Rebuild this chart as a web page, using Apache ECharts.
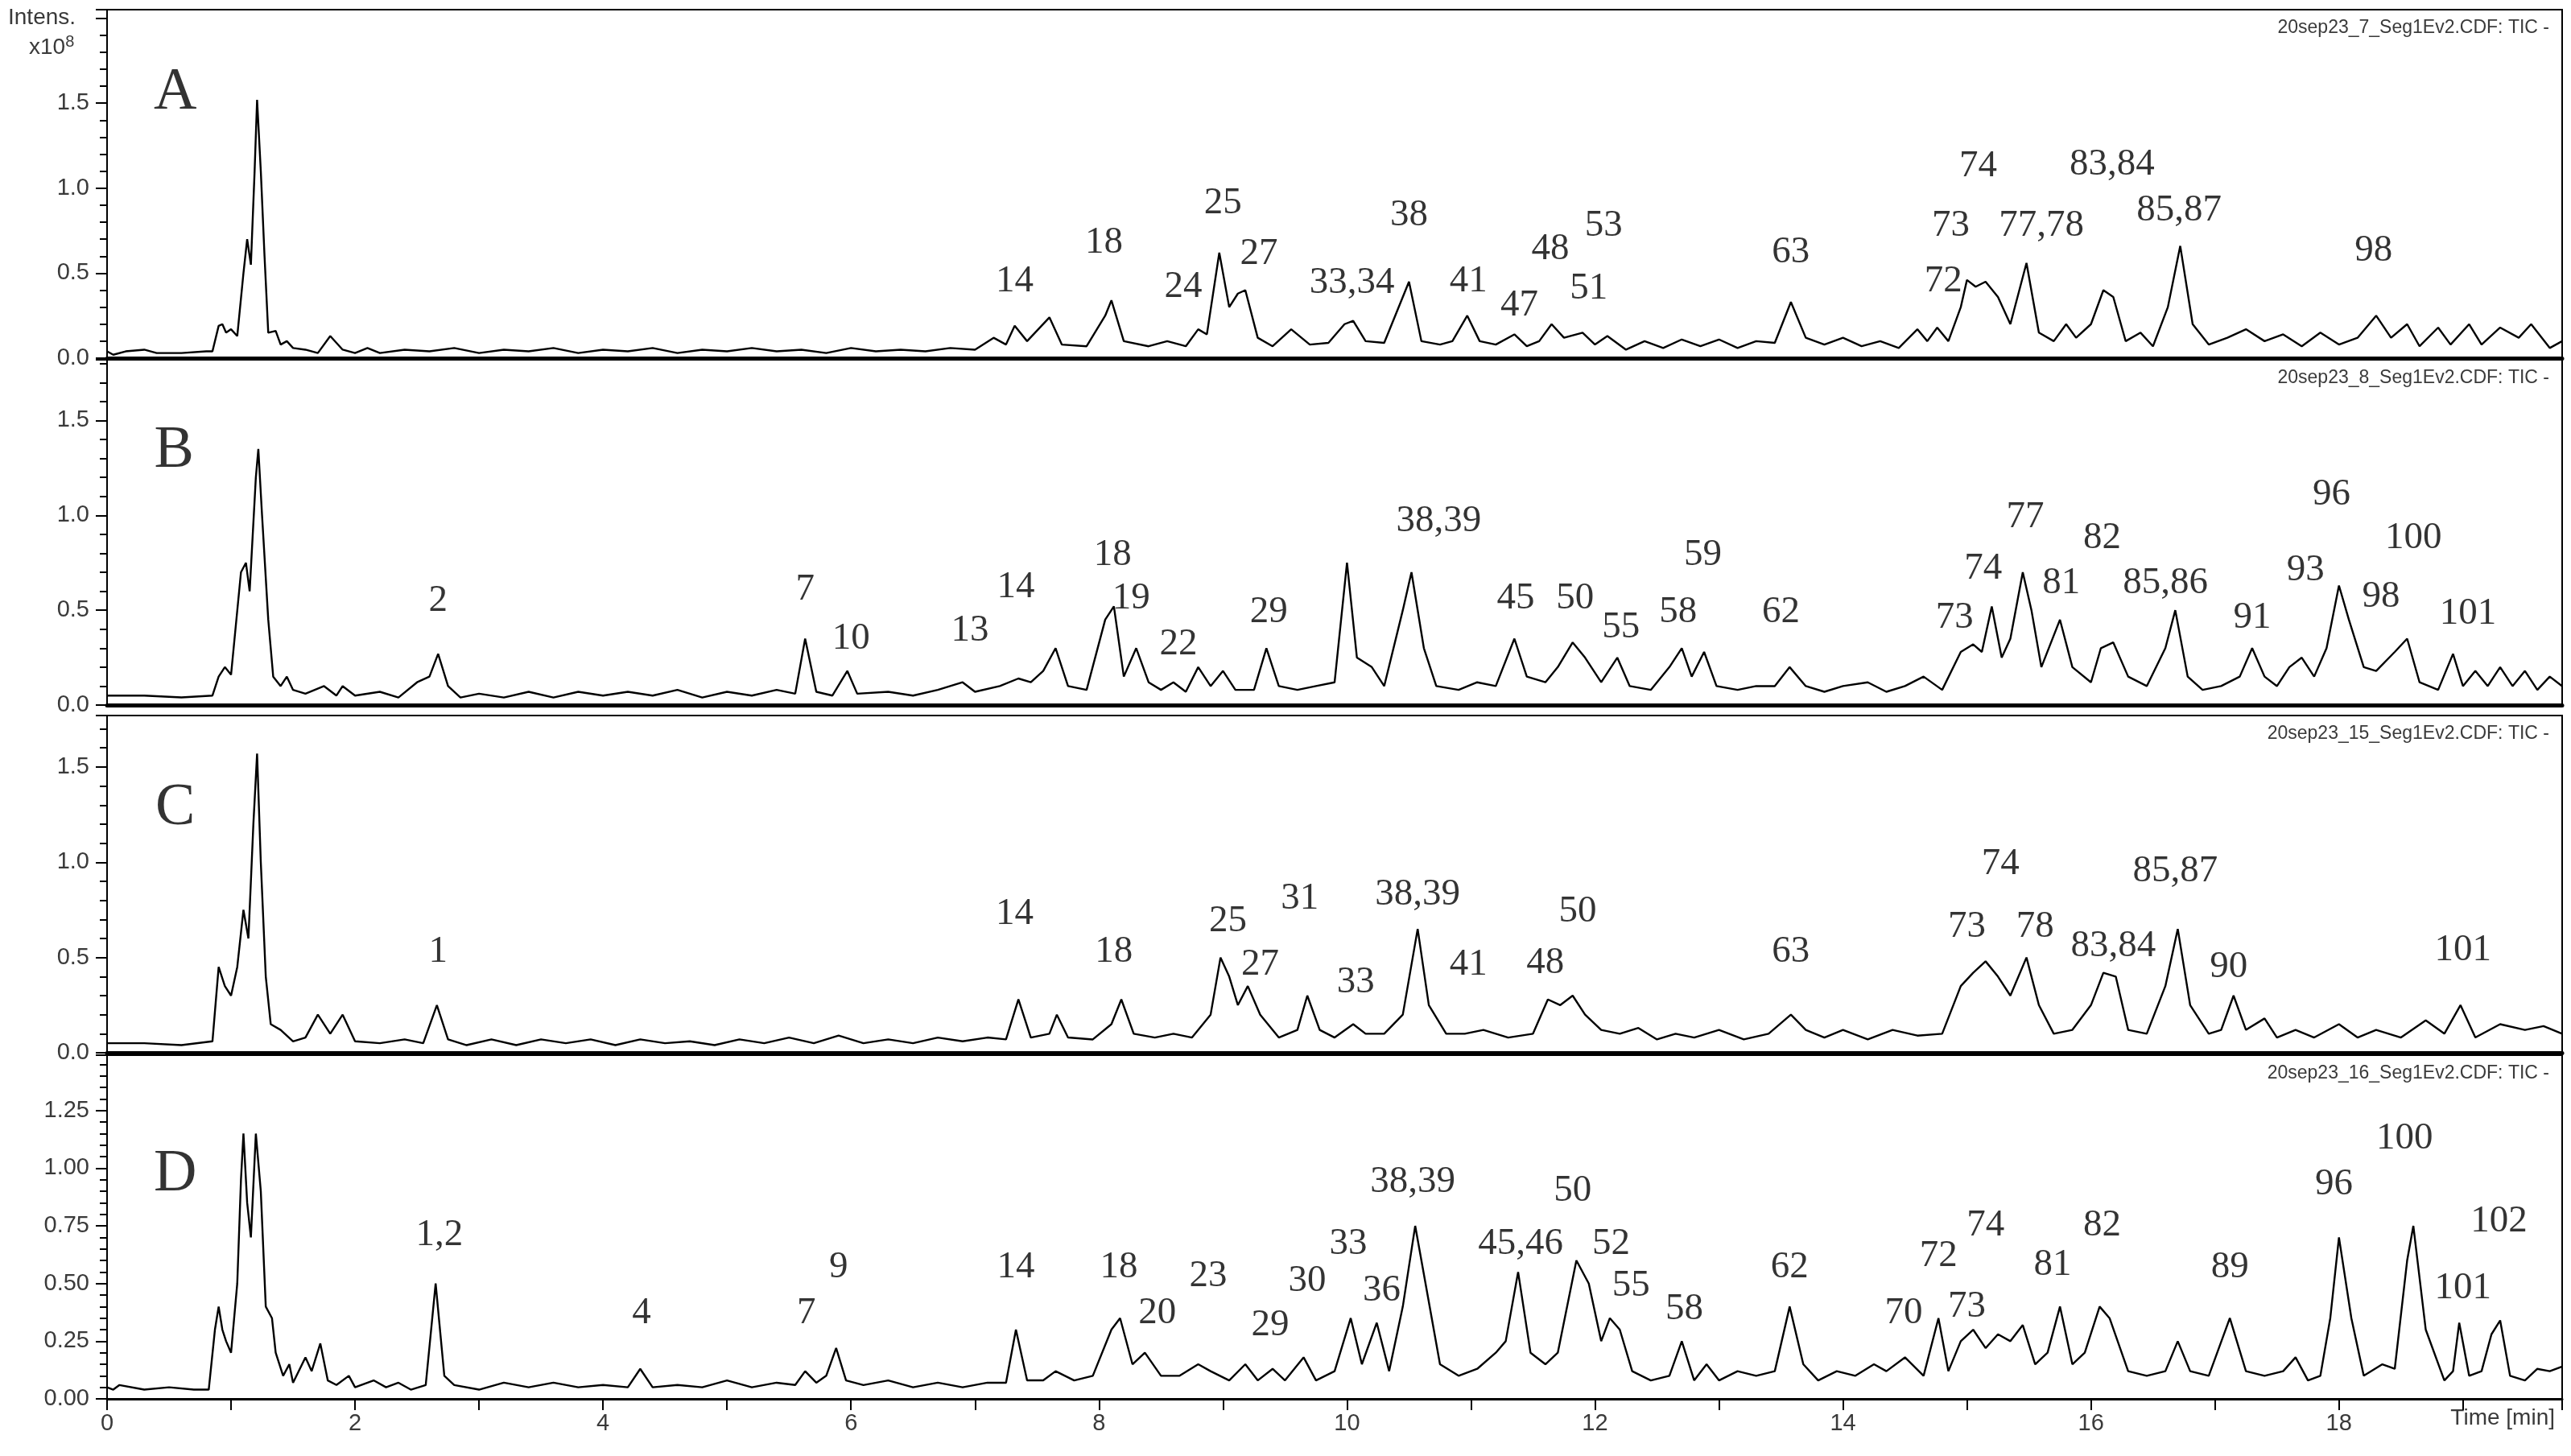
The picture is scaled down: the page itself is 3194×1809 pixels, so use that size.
<!DOCTYPE html>
<html><head><meta charset="utf-8">
<script src="https://cdn.jsdelivr.net/npm/echarts@6/dist/echarts.min.js"></script>
<style>html,body{margin:0;padding:0;background:#fff}#c{width:3194px;height:1809px}</style>
</head><body><div id="c"></div>
<script>
const headers = ['20sep23_7_Seg1Ev2.CDF: TIC -','20sep23_8_Seg1Ev2.CDF: TIC -','20sep23_15_Seg1Ev2.CDF: TIC -','20sep23_16_Seg1Ev2.CDF: TIC -'];
const panelLetters = [['A',0.55,1.56],['B',0.54,1.34],['C',0.55,1.28],['D',0.55,0.97]];
const xTicks = [0,2,4,6,8,10,12,14,16,18];

const traceA = [[0,0.04],[0.05,0.02],[0.15,0.04],[0.3,0.05],[0.4,0.03],[0.6,0.03],[0.8,0.04],[0.85,0.04],[0.9,0.19],[0.93,0.2],[0.96,0.15],[1.0,0.17],[1.05,0.13],[1.1,0.5],[1.13,0.7],[1.16,0.55],[1.19,1.1],[1.21,1.52],[1.24,1.1],[1.27,0.6],[1.3,0.15],[1.36,0.16],[1.4,0.08],[1.45,0.1],[1.5,0.06],[1.6,0.05],[1.7,0.03],[1.8,0.13],[1.9,0.05],[2.0,0.03],[2.1,0.06],[2.2,0.03],[2.4,0.05],[2.6,0.04],[2.8,0.06],[3.0,0.03],[3.2,0.05],[3.4,0.04],[3.6,0.06],[3.8,0.03],[4.0,0.05],[4.2,0.04],[4.4,0.06],[4.6,0.03],[4.8,0.05],[5.0,0.04],[5.2,0.06],[5.4,0.04],[5.6,0.05],[5.8,0.03],[6.0,0.06],[6.2,0.04],[6.4,0.05],[6.6,0.04],[6.8,0.06],[7.0,0.05],[7.15,0.12],[7.25,0.08],[7.32,0.19],[7.42,0.1],[7.6,0.24],[7.7,0.08],[7.9,0.07],[8.05,0.25],[8.1,0.34],[8.2,0.1],[8.4,0.07],[8.55,0.1],[8.7,0.07],[8.8,0.17],[8.87,0.14],[8.97,0.62],[9.05,0.3],[9.12,0.38],[9.18,0.4],[9.28,0.12],[9.4,0.07],[9.55,0.17],[9.7,0.08],[9.85,0.09],[9.98,0.2],[10.05,0.22],[10.15,0.1],[10.3,0.09],[10.5,0.45],[10.6,0.1],[10.75,0.08],[10.85,0.1],[10.97,0.25],[11.07,0.1],[11.2,0.08],[11.35,0.14],[11.45,0.07],[11.55,0.1],[11.65,0.2],[11.75,0.12],[11.9,0.15],[12.0,0.08],[12.1,0.13],[12.25,0.05],[12.4,0.1],[12.55,0.06],[12.7,0.11],[12.85,0.07],[13.0,0.11],[13.15,0.06],[13.3,0.1],[13.45,0.09],[13.58,0.33],[13.7,0.12],[13.85,0.08],[14.0,0.12],[14.15,0.07],[14.3,0.1],[14.45,0.06],[14.6,0.17],[14.68,0.1],[14.76,0.18],[14.85,0.1],[14.95,0.3],[15.0,0.46],[15.07,0.42],[15.15,0.45],[15.25,0.36],[15.35,0.2],[15.48,0.56],[15.58,0.15],[15.7,0.1],[15.8,0.2],[15.88,0.12],[16.0,0.2],[16.1,0.4],[16.18,0.36],[16.28,0.1],[16.4,0.15],[16.5,0.07],[16.62,0.3],[16.72,0.66],[16.82,0.2],[16.95,0.08],[17.1,0.12],[17.25,0.17],[17.4,0.1],[17.55,0.14],[17.7,0.07],[17.85,0.15],[18.0,0.08],[18.15,0.12],[18.3,0.25],[18.42,0.12],[18.55,0.2],[18.65,0.07],[18.8,0.18],[18.9,0.08],[19.05,0.2],[19.15,0.08],[19.3,0.18],[19.45,0.12],[19.55,0.2],[19.7,0.06],[19.8,0.1]];
const traceB = [[0,0.05],[0.3,0.05],[0.6,0.04],[0.85,0.05],[0.9,0.15],[0.95,0.2],[1.0,0.16],[1.08,0.7],[1.12,0.75],[1.15,0.6],[1.2,1.2],[1.22,1.35],[1.25,1.0],[1.3,0.45],[1.34,0.15],[1.4,0.1],[1.45,0.15],[1.5,0.08],[1.6,0.06],[1.75,0.1],[1.85,0.05],[1.9,0.1],[2.0,0.05],[2.2,0.07],[2.35,0.04],[2.5,0.12],[2.6,0.15],[2.67,0.27],[2.75,0.1],[2.85,0.04],[3.0,0.06],[3.2,0.04],[3.4,0.07],[3.6,0.04],[3.8,0.07],[4.0,0.05],[4.2,0.07],[4.4,0.05],[4.6,0.08],[4.8,0.04],[5.0,0.07],[5.2,0.05],[5.4,0.08],[5.55,0.06],[5.63,0.35],[5.72,0.07],[5.85,0.05],[5.97,0.18],[6.05,0.06],[6.3,0.07],[6.5,0.05],[6.7,0.08],[6.9,0.12],[7.0,0.07],[7.2,0.1],[7.35,0.14],[7.45,0.12],[7.55,0.18],[7.65,0.3],[7.75,0.1],[7.9,0.08],[8.05,0.45],[8.12,0.52],[8.2,0.15],[8.3,0.3],[8.4,0.12],[8.5,0.08],[8.6,0.12],[8.7,0.07],[8.8,0.2],[8.9,0.1],[9.0,0.18],[9.1,0.08],[9.25,0.08],[9.35,0.3],[9.45,0.1],[9.6,0.08],[9.75,0.1],[9.9,0.12],[10.0,0.75],[10.08,0.25],[10.2,0.2],[10.3,0.1],[10.45,0.5],[10.52,0.7],[10.62,0.3],[10.72,0.1],[10.9,0.08],[11.05,0.12],[11.2,0.1],[11.35,0.35],[11.45,0.15],[11.6,0.12],[11.7,0.2],[11.82,0.33],[11.92,0.25],[12.05,0.12],[12.18,0.25],[12.28,0.1],[12.45,0.08],[12.6,0.2],[12.7,0.3],[12.78,0.15],[12.88,0.28],[12.98,0.1],[13.15,0.08],[13.3,0.1],[13.45,0.1],[13.57,0.2],[13.7,0.1],[13.85,0.07],[14.0,0.1],[14.2,0.12],[14.35,0.07],[14.5,0.1],[14.65,0.15],[14.8,0.08],[14.95,0.28],[15.05,0.32],[15.12,0.28],[15.2,0.52],[15.28,0.25],[15.35,0.35],[15.45,0.7],[15.52,0.5],[15.6,0.2],[15.75,0.45],[15.85,0.2],[16.0,0.12],[16.08,0.3],[16.18,0.33],[16.3,0.15],[16.45,0.1],[16.6,0.3],[16.68,0.5],[16.78,0.15],[16.9,0.08],[17.05,0.1],[17.2,0.15],[17.3,0.3],[17.4,0.15],[17.5,0.1],[17.6,0.2],[17.7,0.25],[17.8,0.15],[17.9,0.3],[18.0,0.63],[18.08,0.45],[18.2,0.2],[18.3,0.18],[18.45,0.28],[18.55,0.35],[18.65,0.12],[18.8,0.08],[18.92,0.27],[19.0,0.1],[19.1,0.18],[19.2,0.1],[19.3,0.2],[19.4,0.1],[19.5,0.18],[19.6,0.08],[19.7,0.15],[19.8,0.1]];
const traceC = [[0,0.05],[0.3,0.05],[0.6,0.04],[0.85,0.06],[0.9,0.45],[0.95,0.35],[1.0,0.3],[1.05,0.45],[1.1,0.75],[1.14,0.6],[1.18,1.2],[1.21,1.57],[1.24,1.0],[1.28,0.4],[1.32,0.15],[1.4,0.12],[1.5,0.06],[1.6,0.08],[1.7,0.2],[1.8,0.1],[1.9,0.2],[2.0,0.06],[2.2,0.05],[2.4,0.07],[2.55,0.05],[2.66,0.25],[2.75,0.07],[2.9,0.04],[3.1,0.07],[3.3,0.04],[3.5,0.07],[3.7,0.05],[3.9,0.07],[4.1,0.04],[4.3,0.07],[4.5,0.05],[4.7,0.06],[4.9,0.04],[5.1,0.07],[5.3,0.05],[5.5,0.08],[5.7,0.05],[5.9,0.09],[6.1,0.05],[6.3,0.07],[6.5,0.05],[6.7,0.08],[6.9,0.06],[7.1,0.08],[7.25,0.07],[7.35,0.28],[7.45,0.08],[7.6,0.1],[7.66,0.2],[7.75,0.08],[7.95,0.07],[8.1,0.15],[8.18,0.28],[8.28,0.1],[8.45,0.08],[8.6,0.1],[8.75,0.08],[8.9,0.2],[8.98,0.5],[9.05,0.4],[9.12,0.25],[9.2,0.35],[9.3,0.2],[9.45,0.08],[9.6,0.12],[9.68,0.3],[9.78,0.12],[9.9,0.08],[10.05,0.15],[10.15,0.1],[10.3,0.1],[10.45,0.2],[10.57,0.65],[10.66,0.25],[10.8,0.1],[10.95,0.1],[11.1,0.12],[11.3,0.08],[11.5,0.1],[11.62,0.28],[11.72,0.25],[11.82,0.3],[11.92,0.2],[12.05,0.12],[12.2,0.1],[12.35,0.13],[12.5,0.07],[12.65,0.1],[12.8,0.08],[13.0,0.12],[13.2,0.07],[13.4,0.1],[13.58,0.2],[13.7,0.12],[13.85,0.08],[14.0,0.12],[14.2,0.07],[14.4,0.12],[14.6,0.09],[14.8,0.1],[14.95,0.35],[15.05,0.42],[15.15,0.48],[15.25,0.4],[15.35,0.3],[15.48,0.5],[15.58,0.25],[15.7,0.1],[15.85,0.12],[16.0,0.25],[16.1,0.42],[16.2,0.4],[16.3,0.12],[16.45,0.1],[16.6,0.35],[16.7,0.65],[16.8,0.25],[16.95,0.1],[17.05,0.12],[17.15,0.3],[17.25,0.12],[17.4,0.18],[17.5,0.08],[17.65,0.12],[17.8,0.08],[18.0,0.15],[18.15,0.08],[18.3,0.12],[18.5,0.08],[18.7,0.17],[18.85,0.1],[18.98,0.25],[19.1,0.08],[19.3,0.15],[19.5,0.12],[19.65,0.14],[19.8,0.1]];
const traceD = [[0,0.05],[0.05,0.04],[0.1,0.06],[0.3,0.04],[0.5,0.05],[0.7,0.04],[0.82,0.04],[0.87,0.3],[0.9,0.4],[0.93,0.3],[0.96,0.25],[1.0,0.2],[1.05,0.5],[1.08,0.95],[1.1,1.15],[1.13,0.85],[1.16,0.7],[1.2,1.15],[1.24,0.9],[1.28,0.4],[1.33,0.35],[1.36,0.2],[1.42,0.1],[1.47,0.15],[1.5,0.07],[1.6,0.18],[1.65,0.12],[1.72,0.24],[1.78,0.08],[1.85,0.06],[1.95,0.1],[2.0,0.05],[2.15,0.08],[2.25,0.05],[2.35,0.07],[2.45,0.04],[2.57,0.06],[2.65,0.5],[2.72,0.1],[2.8,0.06],[3.0,0.04],[3.2,0.07],[3.4,0.05],[3.6,0.07],[3.8,0.05],[4.0,0.06],[4.2,0.05],[4.3,0.13],[4.4,0.05],[4.6,0.06],[4.8,0.05],[5.0,0.08],[5.2,0.05],[5.4,0.07],[5.55,0.06],[5.63,0.12],[5.72,0.07],[5.8,0.1],[5.88,0.22],[5.96,0.08],[6.1,0.06],[6.3,0.08],[6.5,0.05],[6.7,0.07],[6.9,0.05],[7.1,0.07],[7.25,0.07],[7.33,0.3],[7.42,0.08],[7.55,0.08],[7.65,0.12],[7.8,0.08],[7.95,0.1],[8.1,0.3],[8.17,0.35],[8.27,0.15],[8.37,0.2],[8.5,0.1],[8.65,0.1],[8.8,0.15],[8.9,0.12],[9.05,0.08],[9.18,0.15],[9.28,0.08],[9.4,0.13],[9.5,0.08],[9.65,0.18],[9.75,0.08],[9.9,0.12],[10.03,0.35],[10.12,0.15],[10.24,0.33],[10.34,0.12],[10.45,0.4],[10.55,0.75],[10.65,0.45],[10.75,0.15],[10.9,0.1],[11.05,0.13],[11.2,0.2],[11.28,0.25],[11.38,0.55],[11.48,0.2],[11.6,0.15],[11.7,0.2],[11.85,0.6],[11.95,0.5],[12.05,0.25],[12.12,0.35],[12.2,0.3],[12.3,0.12],[12.45,0.08],[12.6,0.1],[12.7,0.25],[12.8,0.08],[12.9,0.15],[13.0,0.08],[13.15,0.12],[13.3,0.1],[13.45,0.12],[13.57,0.4],[13.68,0.15],[13.8,0.08],[13.95,0.12],[14.1,0.1],[14.25,0.15],[14.35,0.12],[14.5,0.18],[14.65,0.1],[14.77,0.35],[14.85,0.12],[14.95,0.25],[15.05,0.3],[15.15,0.22],[15.25,0.28],[15.35,0.25],[15.45,0.32],[15.55,0.15],[15.65,0.2],[15.75,0.4],[15.85,0.15],[15.95,0.2],[16.07,0.4],[16.15,0.35],[16.3,0.12],[16.45,0.1],[16.6,0.12],[16.7,0.25],[16.8,0.12],[16.95,0.1],[17.12,0.35],[17.25,0.12],[17.4,0.1],[17.55,0.12],[17.65,0.18],[17.75,0.08],[17.85,0.1],[17.93,0.35],[18.0,0.7],[18.1,0.35],[18.2,0.1],[18.35,0.15],[18.45,0.13],[18.55,0.6],[18.6,0.75],[18.7,0.3],[18.85,0.08],[18.92,0.12],[18.97,0.33],[19.05,0.1],[19.15,0.12],[19.23,0.28],[19.3,0.34],[19.38,0.1],[19.5,0.08],[19.6,0.13],[19.7,0.12],[19.8,0.14]];

const labelsA = [['14',7.32,0.45],['18',8.04,0.68],['24',8.68,0.42],['25',9.0,0.91],['27',9.29,0.61],['33,34',10.04,0.44],['38',10.5,0.84],['41',10.98,0.45],['47',11.39,0.31],['48',11.64,0.64],['51',11.95,0.41],['53',12.07,0.78],['63',13.58,0.62],['72',14.81,0.45],['73',14.87,0.78],['74',15.09,1.13],['77,78',15.6,0.78],['83,84',16.17,1.14],['85,87',16.71,0.87],['98',18.28,0.63]];
const labelsB = [['2',2.67,0.55],['7',5.63,0.61],['10',6.0,0.35],['13',6.96,0.39],['14',7.33,0.62],['18',8.11,0.79],['19',8.26,0.56],['22',8.64,0.32],['29',9.37,0.49],['38,39',10.74,0.97],['45',11.36,0.56],['50',11.84,0.56],['55',12.21,0.41],['58',12.67,0.49],['59',12.87,0.79],['62',13.5,0.49],['73',14.9,0.46],['74',15.13,0.72],['77',15.47,0.99],['81',15.76,0.64],['82',16.09,0.88],['85,86',16.6,0.64],['91',17.3,0.46],['93',17.73,0.71],['96',17.94,1.11],['98',18.34,0.57],['100',18.6,0.88],['101',19.04,0.48]];
const labelsC = [['1',2.67,0.53],['14',7.32,0.73],['18',8.12,0.53],['25',9.04,0.69],['27',9.3,0.46],['31',9.62,0.81],['33',10.07,0.37],['38,39',10.57,0.83],['41',10.98,0.46],['48',11.6,0.47],['50',11.86,0.74],['63',13.58,0.53],['73',15.0,0.66],['74',15.27,0.99],['78',15.55,0.66],['83,84',16.18,0.56],['85,87',16.68,0.95],['90',17.11,0.45],['101',19.0,0.54]];
const labelsD = [['1,2',2.68,0.71],['4',4.31,0.37],['7',5.64,0.37],['9',5.9,0.57],['14',7.33,0.57],['18',8.16,0.57],['20',8.47,0.37],['23',8.88,0.53],['29',9.38,0.32],['30',9.68,0.51],['33',10.01,0.67],['36',10.28,0.47],['38,39',10.53,0.94],['45,46',11.4,0.67],['50',11.82,0.9],['52',12.13,0.67],['55',12.29,0.49],['58',12.72,0.39],['62',13.57,0.57],['70',14.49,0.37],['72',14.77,0.62],['73',15.0,0.4],['74',15.15,0.75],['81',15.69,0.58],['82',16.09,0.75],['89',17.12,0.57],['96',17.96,0.93],['100',18.53,1.13],['101',19.0,0.48],['102',19.29,0.77]];

const traces = [traceA, traceB, traceC, traceD];
const peakLabels = [labelsA, labelsB, labelsC, labelsD];
const yMax = [2.05, 1.82, 1.77, 1.49];
const yInterval = [0.5, 0.5, 0.5, 0.25];
const yLabelMax = [1.5, 1.5, 1.5, 1.25];
const tops = [12, 447, 889, 1311];
const heights = [433, 429, 419, 427];

const axisFont = {fontFamily:'Liberation Sans', fontSize:29, color:'#3a3a3a'};
const grid=[], xAxis=[], yAxis=[], series=[], title=[];
for (let i=0;i<4;i++){
  grid.push({left:133, right:11, top:tops[i], height:heights[i], show:true, borderColor:'#000', borderWidth:2, backgroundColor:'#fff'});
  const last = i===3;
  xAxis.push({type:'value', gridIndex:i, min:0, max:19.8, interval:2,
    axisLine:{show:true, onZero:false, lineStyle:{color:'#000', width:last?3:5}},
    axisTick:{show:last, length:14, lineStyle:{color:'#000', width:2}},
    minorTick:{show:last, splitNumber:2, length:14, lineStyle:{color:'#000', width:2}},
    axisLabel:{show:last, ...axisFont, margin:16, showMaxLabel:false},
    splitLine:{show:false}});
  yAxis.push({type:'value', gridIndex:i, min:0, max:yMax[i], interval:yInterval[i],
    axisLine:{show:true, lineStyle:{color:'#000', width:2}},
    axisTick:{show:true, length:14, lineStyle:{color:'#000', width:2}},
    minorTick:{show:true, splitNumber:5, length:9, lineStyle:{color:'#000', width:2}},
    axisLabel:{...axisFont, margin:22, showMaxLabel:false,
      formatter: v => v > yLabelMax[i] + 1e-6 ? '' : (i===3 ? v.toFixed(2) : v.toFixed(1))},
    splitLine:{show:false}});
  series.push({type:'line', xAxisIndex:i, yAxisIndex:i, data:traces[i], showSymbol:false,
    lineStyle:{color:'#000', width:2.4}, animation:false, z:3});
  series.push({type:'scatter', xAxisIndex:i, yAxisIndex:i, symbolSize:0, animation:false, z:5,
    data: peakLabels[i].map(d=>({name:d[0], value:[d[1],d[2]]})),
    label:{show:true, position:'inside', formatter:p=>p.name, fontFamily:'Liberation Serif', fontSize:47, color:'#000'}});
  series.push({type:'scatter', xAxisIndex:i, yAxisIndex:i, symbolSize:0, animation:false, z:5,
    data:[{name:panelLetters[i][0], value:[panelLetters[i][1], panelLetters[i][2]]}],
    label:{show:true, position:'inside', formatter:p=>p.name, fontFamily:'Liberation Serif', fontSize:74, color:'#000'}});
  title.push({text:headers[i], right:22, top:tops[i]+6, textStyle:{fontFamily:'Liberation Sans', fontSize:23, fontWeight:'normal', color:'#3a3a3a'}});
}
const chart = echarts.init(document.getElementById('c'), null, {renderer:'canvas'});
chart.setOption({animation:false, backgroundColor:'#fff', grid, xAxis, yAxis, series, title,
  graphic:[
    {type:'text', left:10, top:8, style:{text:'Intens.', fontFamily:'Liberation Sans', fontSize:28, fill:'#3a3a3a'}},
    {type:'text', left:36, top:42, style:{text:'{a|x10}{s|8}', rich:{a:{fontFamily:'Liberation Sans', fontSize:28, fill:'#3a3a3a'}, s:{fontFamily:'Liberation Sans', fontSize:20, fill:'#3a3a3a', verticalAlign:'top', padding:[0,0,14,0]}}}},
    {type:'text', right:20, top:1748, style:{text:'Time [min]', fontFamily:'Liberation Sans', fontSize:28, fill:'#3a3a3a'}}
  ]});
</script></body></html>
